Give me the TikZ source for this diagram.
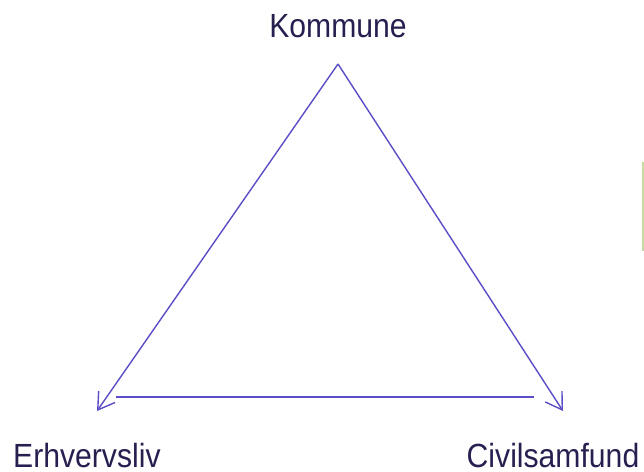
\documentclass[tikz,border=0pt]{standalone}
\usepackage{fontspec}
\setmainfont[FakeStretch=0.9]{Liberation Sans}
\usetikzlibrary{arrows.meta}
\definecolor{txt}{HTML}{262050}
\definecolor{ln}{HTML}{5A4EC6}
\definecolor{grn}{HTML}{C5DBA2}
\begin{document}
\begin{tikzpicture}[x=1pt,y=-1pt,
  lbl/.style={inner sep=0pt, text=txt, font=\fontsize{33.5}{40}\selectfont},
  conn/.style={draw=ln, line width=1.4pt},
  arr/.style={conn, -{Straight Barb[length=16pt,width=20pt,line width=1.4pt]}}]
\useasboundingbox (0,0) rectangle (644,471);
\fill[white] (0,0) rectangle (644,471);
\fill[grn] (641.5,162) rectangle (644,251);
\node[lbl, anchor=base] (kom) at (338,37) {Kommune};
\node[lbl, anchor=base west] (erh) at (13,467) {Erhvervsliv};
\node[lbl, anchor=base east] (civ) at (639.5,467) {Civilsamfund};
\coordinate (apex) at (338,64);
\coordinate (bl) at (97,411);
\coordinate (br) at (563,411);
\coordinate (hl) at (116,397);
\coordinate (hr) at (534,397);
\draw[arr] (apex) -- (bl);
\draw[arr] (apex) -- (br);
\draw[conn] (hl) -- (hr);
\end{tikzpicture}
\end{document}
